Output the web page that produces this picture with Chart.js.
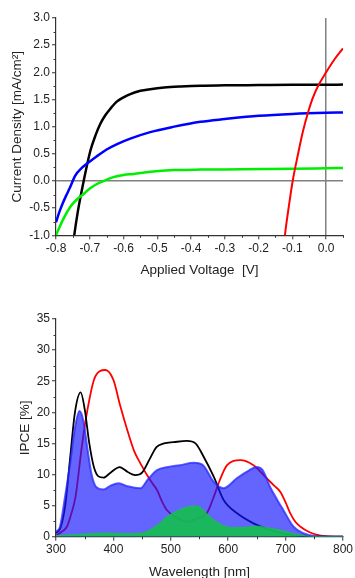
<!DOCTYPE html>
<html lang="en">
<head>
<meta charset="UTF-8">
<title>J-V and IPCE</title>
<script src="https://cdn.jsdelivr.net/npm/chart.js"></script>
<style>
    body { margin: 0; background: #fff; overflow: hidden; }
    #jv { position: absolute; left: 0; top: 0; }
    #ipce { position: absolute; left: 0; top: 290px; }
</style>
</head>
<body>
<canvas id="jv" width="355" height="290"></canvas>
<canvas id="ipce" width="355" height="300"></canvas>
<script>
// ---- J-V curves (voltage in V, current density in mA/cm2)
const blackV = [-0.750, -0.746, -0.735, -0.718, -0.698, -0.683, -0.669, -0.654, -0.639, -0.620, -0.600, -0.580, -0.550, -0.521, -0.480, -0.430, -0.372, -0.300, -0.200, -0.100, 0.000, 0.050];
const blackJ = [-1.20, -1.00, -0.55, 0.00, 0.56, 0.84, 1.05, 1.21, 1.33, 1.46, 1.54, 1.60, 1.66, 1.69, 1.72, 1.74, 1.755, 1.76, 1.765, 1.77, 1.77, 1.775];

const blueV = [-0.800, -0.790, -0.780, -0.770, -0.760, -0.743, -0.725, -0.708, -0.680, -0.650, -0.619, -0.580, -0.521, -0.450, -0.372, -0.300, -0.200, -0.100, 0.000, 0.050];
const blueJ = [-0.76, -0.57, -0.41, -0.27, -0.14, 0.10, 0.23, 0.32, 0.45, 0.58, 0.68, 0.78, 0.90, 1.00, 1.09, 1.14, 1.20, 1.235, 1.255, 1.26];

const greenV = [-0.800, -0.780, -0.758, -0.740, -0.718, -0.700, -0.680, -0.659, -0.630, -0.600, -0.570, -0.520, -0.450, -0.372, -0.250, -0.100, 0.000, 0.050];
const greenJ = [-1.00, -0.72, -0.48, -0.35, -0.24, -0.14, -0.06, 0.00, 0.07, 0.11, 0.13, 0.17, 0.20, 0.21, 0.215, 0.225, 0.235, 0.24];

const redV = [-0.125, -0.122, -0.110, -0.099, -0.083, -0.070, -0.054, -0.040, -0.022, 0.000, 0.025, 0.050];
const redJ = [-1.20, -1.00, -0.45, 0.00, 0.50, 0.88, 1.25, 1.52, 1.77, 2.00, 2.24, 2.44];

const jvXTicks = [-0.8, 0.0];   // x range ends, step 0.1
const jvYTicks = [-1.0, 3.0];   // y range ends, step 0.5

// ---- IPCE spectra (wavelength in nm, IPCE in %)
const blackWl = [300, 308, 316, 325, 333, 343, 350, 358, 366, 374, 383, 395, 411, 425, 438, 450, 465, 475, 488, 505, 528, 543, 557, 575, 592, 615, 644, 673, 702, 730, 760, 800];
const blackIpce = [0.6, 1.5, 5.0, 13.0, 20.0, 23.2, 20.5, 15.0, 11.2, 9.7, 9.5, 10.3, 11.2, 10.4, 9.9, 10.3, 12.8, 14.4, 15.0, 15.2, 15.4, 15.0, 12.9, 9.6, 5.9, 3.8, 2.15, 1.08, 0.4, 0.1, 0.0, 0.0];

const blueWl = [300, 307, 315, 325, 333, 341, 348, 355, 362, 370, 383, 395, 409, 425, 447, 460, 476, 495, 516, 540, 555, 575, 592, 615, 635, 650, 660, 673, 685, 696, 714, 731, 750, 800];
const blueIpce = [0.8, 1.6, 6.0, 12.0, 17.5, 20.2, 18.5, 14.0, 10.0, 8.0, 7.6, 8.2, 8.6, 8.1, 7.8, 9.2, 10.7, 11.2, 11.5, 11.9, 11.6, 8.8, 7.8, 9.4, 10.6, 11.2, 10.7, 8.0, 6.0, 4.3, 1.6, 0.55, 0.1, 0.0];

const redWl = [300, 310, 319, 327, 334, 345, 355, 366, 376, 386, 400, 412, 424, 436, 447, 464, 476, 485, 493, 511, 528, 545, 563, 574, 585, 598, 621, 644, 667, 680, 691, 700, 708, 717, 726, 740, 755, 770, 800];
const redIpce = [0.2, 0.8, 1.6, 3.8, 6.4, 14.5, 20.5, 25.2, 26.6, 26.8, 25.2, 21.0, 17.2, 13.8, 11.8, 9.1, 7.5, 5.6, 4.3, 3.0, 2.4, 2.9, 3.8, 6.2, 9.0, 11.5, 12.3, 11.5, 9.4, 8.2, 7.2, 5.5, 3.8, 2.4, 1.6, 0.8, 0.3, 0.1, 0.0];

const greenWl = [300, 330, 360, 390, 420, 450, 465, 478, 493, 508, 522, 540, 552, 563, 575, 590, 604, 625, 650, 670, 691, 710, 726, 745, 800];
const greenIpce = [0.2, 0.3, 0.5, 0.6, 0.5, 0.6, 1.2, 2.0, 3.2, 4.0, 4.6, 4.95, 4.7, 3.7, 2.7, 1.9, 1.5, 1.5, 1.7, 1.4, 1.08, 0.6, 0.27, 0.05, 0.0];

const ipceXTicks = [300, 800];  // step 100
const ipceYTicks = [0, 35];     // step 5

const FONT = "'Liberation Sans', Arial, sans-serif";
const TEXT = '#222';

const pts = (xs, ys) => xs.map((x, i) => ({ x: x, y: ys[i] }));

// small ticks half way between the labelled ones
const minorTicks = {
    id: 'minorTicks',
    afterDraw(chart) {
        const ctx = chart.ctx;
        ctx.save();
        ctx.strokeStyle = '#333';
        ctx.lineWidth = 1;
        ['x', 'y'].forEach(id => {
            const s = chart.scales[id];
            const t = s.ticks;
            for (let i = 0; i < t.length; i++) {
                const v = i < t.length - 1 ? (t[i].value + t[i + 1].value) / 2 : t[i].value + (t[1].value - t[0].value) / 2;
                if (v > s.max + 1e-9) continue;
                const p = s.getPixelForValue(v);
                ctx.beginPath();
                if (id === 'x') {
                    const px = Math.round(p) + 0.5;
                    ctx.moveTo(px, s.top);
                    ctx.lineTo(px, s.top + 2.5);
                } else {
                    const py = Math.round(p) + 0.5;
                    ctx.moveTo(s.right, py);
                    ctx.lineTo(s.right - 2.5, py);
                }
                ctx.stroke();
            }
        });
        ctx.restore();
    }
};

function axis(range, step, fmt, title, titlePad, fixedSize, horizontal, zeroLine) {
    return {
        type: 'linear',
        min: range[0],
        max: horizontal && range === jvXTicks ? 0.05 : range[1],
        border: { color: '#333', width: 1.2 },
        grid: {
            drawOnChartArea: zeroLine,
            color: c => (zeroLine && c.tick && Math.abs(c.tick.value) < 1e-9) ? '#808080' : 'rgba(0,0,0,0)',
            lineWidth: 1.5,
            tickColor: '#333',
            tickLength: 4,
            tickWidth: 1
        },
        ticks: {
            stepSize: step,
            includeBounds: false,
            autoSkip: false,
            maxRotation: 0,
            padding: 2,
            color: TEXT,
            font: { family: FONT, size: 12 },
            callback: fmt
        },
        title: {
            display: true,
            text: title,
            color: TEXT,
            font: { family: FONT, size: 13.5 },
            padding: titlePad
        },
        afterFit: s => {
            if (horizontal) s.height = fixedSize; else s.width = fixedSize;
        }
    };
}

const fmt1 = v => (Math.abs(v) < 1e-9 ? '0.0' : v.toFixed(1));
const fmt0 = v => String(v);

new Chart(document.getElementById('jv'), {
    type: 'line',
    data: {
        datasets: [
            { data: pts(redV, redJ), borderColor: '#ff0000', borderWidth: 2 },
            { data: pts(greenV, greenJ), borderColor: '#00ee00', borderWidth: 2.5 },
            { data: pts(blueV, blueJ), borderColor: '#0000ff', borderWidth: 2.5 },
            { data: pts(blackV, blackJ), borderColor: '#000000', borderWidth: 2.5 }
        ]
    },
    options: {
        responsive: false,
        animation: false,
        layout: { padding: { top: 18, right: 12, left: 0, bottom: 0 } },
        elements: {
            point: { radius: 0 },
            line: { cubicInterpolationMode: 'monotone', fill: false }
        },
        plugins: { legend: { display: false }, tooltip: { enabled: false } },
        scales: {
            x: axis(jvXTicks, 0.1, fmt1, 'Applied Voltage  [V]', { top: 0, bottom: 12 }, 290 - 235.3, true, true),
            y: axis(jvYTicks, 0.5, fmt1, 'Current Density [mA/cm²]', { top: 9, bottom: 0 }, 56, false, true)
        }
    },
    plugins: [minorTicks]
});

new Chart(document.getElementById('ipce'), {
    type: 'line',
    data: {
        datasets: [
            { data: pts(greenWl, greenIpce), borderColor: 'rgba(30,190,80,0.9)', backgroundColor: 'rgba(20,190,80,0.92)', borderWidth: 1, fill: 'origin' },
            { data: pts(blueWl, blueIpce), borderColor: 'rgba(40,40,255,0.75)', backgroundColor: 'rgba(20,20,255,0.66)', borderWidth: 2, fill: 'origin' },
            { data: pts(blackWl, blackIpce), borderColor: '#000000', borderWidth: 1.8, fill: false },
            { data: pts(redWl, redIpce), borderColor: '#ff0000', borderWidth: 1.8, fill: false }
        ]
    },
    options: {
        responsive: false,
        animation: false,
        layout: { padding: { top: 29, right: 12, left: 0, bottom: 0 } },
        elements: {
            point: { radius: 0 },
            line: { cubicInterpolationMode: 'monotone' }
        },
        plugins: { legend: { display: false }, tooltip: { enabled: false } },
        scales: {
            x: axis(ipceXTicks, 100, fmt0, 'Wavelength [nm]', { top: 0, bottom: 9.5 }, 300 - 246.7, true, false),
            y: axis(ipceYTicks, 5, fmt0, 'IPCE [%]', { top: 17, bottom: 0 }, 56, false, false)
        }
    },
    plugins: [minorTicks]
});
</script>
</body>
</html>
